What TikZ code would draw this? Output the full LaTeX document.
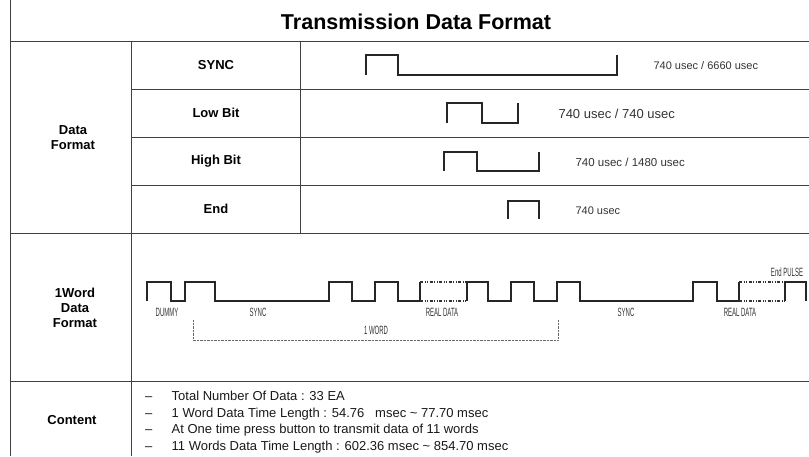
\documentclass[tikz,border=0pt]{standalone}
\usepackage{fontspec}
\setmainfont{Liberation Sans}
\newfontfamily\wavefont[FakeStretch=0.5]{Liberation Sans}

\begin{document}
\begin{tikzpicture}[x=1pt,y=-1pt,
    grid/.style={draw=black!75,line width=0.9pt},
    head/.style={font=\fontsize{13}{15}\selectfont\bfseries,align=center},
    usec/.style={font=\fontsize{11}{13}\selectfont,anchor=west,text=black!80},
    wave/.style={draw=black!85,line width=1.3pt},
    dashbox/.style={draw=black!80,line width=1.1pt,dash pattern=on 3pt off 1.5pt on 1pt off 1.5pt on 1pt off 1.5pt},
    wlbl/.style={font=\wavefont\fontsize{12}{14}\selectfont,text=black!80,inner sep=0pt},
    item/.style={font=\fontsize{13}{15}\selectfont,anchor=base west,inner sep=0pt,text=black!90}]
  \useasboundingbox (0,0) rectangle (809,456);
  % table lines
  \draw[grid] (10,0) -- (10,456);
  \foreach \y in {41,233,381} \draw[grid] (10,\y) -- (809,\y);
  \foreach \y in {89,137,185} \draw[grid] (131,\y) -- (809,\y);
  \draw[grid] (131,41) -- (131,456);
  \draw[grid] (300,41) -- (300,233);

  \node[font=\fontsize{21.5}{24}\selectfont\bfseries] (title) at (416,22) {Transmission Data Format};
  \node[head] (dataformat) at (73,137.5) {Data\\Format};
  \node[head] (wordformat) at (75,308) {1Word\\Data\\Format};
  \node[head] (content) at (72,420.5) {Content};
  \foreach \y/\name/\txt in {65/sync/SYNC,113/low/Low Bit,161/high/High Bit,209/end/End}
    \node[head] (\name) at (216,\y) {\txt};

  % bit formats
  \draw[wave] (366,75) -- (366,55) -- (398,55) -- (398,75) -- (617,75) -- (617,55);
  \node[usec] (synct) at (650,66) {740 usec / 6660 usec};
  \draw[wave] (447,123) -- (447,103) -- (482,103) -- (482,123) -- (518,123) -- (518,103);
  \node[usec,font=\fontsize{13}{15}\selectfont] (lowt) at (555,114) {740 usec / 740 usec};
  \draw[wave] (444,171) -- (444,152) -- (477,152) -- (477,171) -- (539,171) -- (539,152);
  \node[usec,font=\fontsize{11.5}{13}\selectfont] (hight) at (572,162) {740 usec / 1480 usec};
  \draw[wave] (508,219) -- (508,201) -- (539,201) -- (539,219);
  \node[usec] (endt) at (572,211) {740 usec};

  % one word
  \draw[wave] (147,301) -- (147,282) -- (171,282) -- (171,301) -- (185,301) -- (185,282)
    -- (215,282) -- (215,301) -- (329,301) -- (329,282) -- (352,282) -- (352,301)
    -- (375,301) -- (375,282) -- (398,282) -- (398,301) -- (420,301) -- (420,282);
  \draw[dashbox] (420,282) -- (467,282) (420,301) -- (467,301);
  \draw[wave] (467,301) -- (467,282) -- (488,282) -- (488,301) -- (511,301) -- (511,282)
    -- (534,282) -- (534,301) -- (557,301) -- (557,282) -- (580,282) -- (580,301)
    -- (693,301) -- (693,282) -- (717,282) -- (717,301) -- (739,301) -- (739,282);
  \draw[dashbox] (739,282) -- (785,282) (739,301) -- (785,301);
  \draw[wave] (785,301) -- (785,282) -- (806,282) -- (806,301);

  \node[wlbl] (dummy) at (167,312) {DUMMY};
  \node[wlbl] (sync1) at (258,312) {SYNC};
  \node[wlbl] (real1) at (442,312) {REAL DATA};
  \node[wlbl] (sync2) at (626,312) {SYNC};
  \node[wlbl] (real2) at (740,312) {REAL DATA};
  \node[wlbl] (endpulse) at (787,272) {End PULSE};
  \node[wlbl] (oneword) at (376,330) {1 WORD};
  \draw[densely dotted,black!60] (193,320) -- (193,340) -- (558,340) -- (558,320);

  % content
  \foreach \i/\txt in {0/{Total Number Of Data : 33 EA},
      1/{1 Word Data Time Length : 54.76\ \ \ msec \textasciitilde{} 77.70 msec},
      2/{At One time press button to transmit data of 11 words},
      3/{11 Words Data Time Length : 602.36 msec \textasciitilde{} 854.70 msec}}
  {
    \node[item] (dash\i) at (145,{400.4+16.6*\i}) {–};
    \node[item] (item\i) at (171.5,{400.4+16.6*\i}) {\txt};
  }
\end{tikzpicture}
\end{document}
